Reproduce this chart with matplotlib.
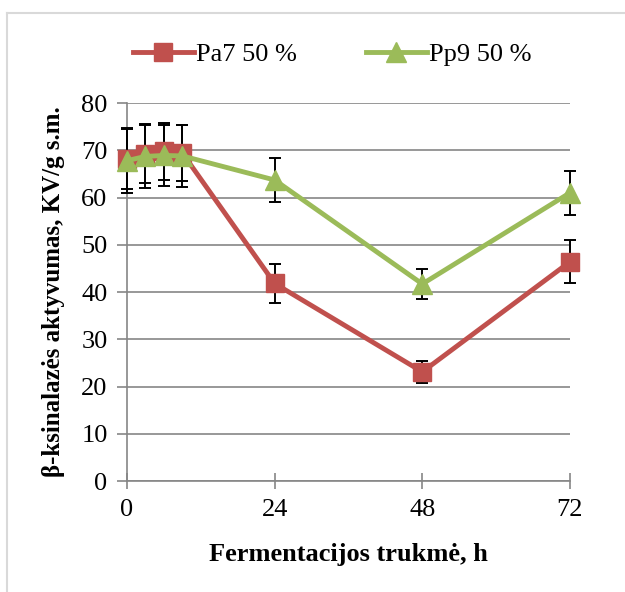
import numpy as np
import matplotlib.pyplot as plt
from matplotlib.lines import Line2D

plt.rcParams['font.family'] = ['Liberation Serif', 'DejaVu Serif']

# fermentacijos laikas, h
laikas = [0, 3, 6, 9, 24, 48, 72]

# Pa7 50 %
pa7 = [68.2, 69.3, 69.8, 69.4, 41.8, 23.1, 46.4]
pa7_err = [6.5, 6.3, 6.0, 6.0, 4.1, 2.4, 4.6]

# Pp9 50 %
pp9 = [67.8, 68.7, 68.9, 68.8, 63.7, 41.7, 61.0]
pp9_err = [6.8, 6.6, 6.5, 6.5, 4.7, 3.2, 4.6]

raudona = '#C0504D'
zalia = '#9BBB59'

fig = plt.figure(figsize=(6.25, 5.92), dpi=100)
ax = fig.add_axes([0.2032, 0.1875, 0.7088, 0.6385])

# rėmelio kraštai (viršus ir kairė)
x0, y0 = 6.5 / 625, 1 - 12.5 / 592
fig.lines.append(Line2D([x0, x0], [0, y0], transform=fig.transFigure,
                        color='#D9D9D9', linewidth=1.5))
fig.lines.append(Line2D([x0, 1], [y0, y0], transform=fig.transFigure,
                        color='#D9D9D9', linewidth=1.5))

# paklaidos
ax.errorbar(laikas, pa7, yerr=pa7_err, fmt='none', ecolor='black', elinewidth=1.4,
            capsize=4, capthick=1.4, zorder=3, clip_on=False)
ax.errorbar(laikas, pp9, yerr=pp9_err, fmt='none', ecolor='black', elinewidth=1.4,
            capsize=4, capthick=1.4, zorder=3, clip_on=False)

ax.plot(laikas, pa7, color=raudona, linewidth=3.5, marker='s', markersize=13,
        markerfacecolor=raudona, markeredgecolor=raudona, label='Pa7 50 %',
        zorder=4, clip_on=False)
ax.plot(laikas, pp9, color=zalia, linewidth=3.5, marker='^', markersize=14,
        markerfacecolor=zalia, markeredgecolor=zalia, label='Pp9 50 %',
        zorder=5, clip_on=False)

ax.set_xlim(0, 72)
ax.set_ylim(0, 80)
ax.set_xticks([0, 24, 48, 72])
ax.set_yticks(np.arange(0, 81, 10))
ax.yaxis.grid(True, color='#868686', linewidth=1.2)
ax.set_axisbelow(True)

for s in ['top', 'right']:
    ax.spines[s].set_visible(False)
for s in ['left', 'bottom']:
    ax.spines[s].set_color('#868686')
    ax.spines[s].set_linewidth(1.2)

ax.tick_params(axis='x', direction='inout', length=12, width=1.2, color='#868686',
               labelsize=19, pad=7)
ax.tick_params(axis='y', direction='out', length=7, width=1.2, color='#868686',
               labelsize=19, pad=7)

ax.set_xlabel('Fermentacijos trukmė, h', fontsize=19, fontweight='bold', labelpad=16)
ax.set_ylabel('β-ksinalazės aktyvumas, KV/g s.m.', fontsize=18, fontweight='bold',
              labelpad=12)

ax.legend(loc='lower left', bbox_to_anchor=(-0.01, 1.07), ncol=2, frameon=False,
          fontsize=19, handlelength=2.3, columnspacing=2.6, handletextpad=0.1,
          borderaxespad=0)

fig.savefig('out.png', dpi=100)
